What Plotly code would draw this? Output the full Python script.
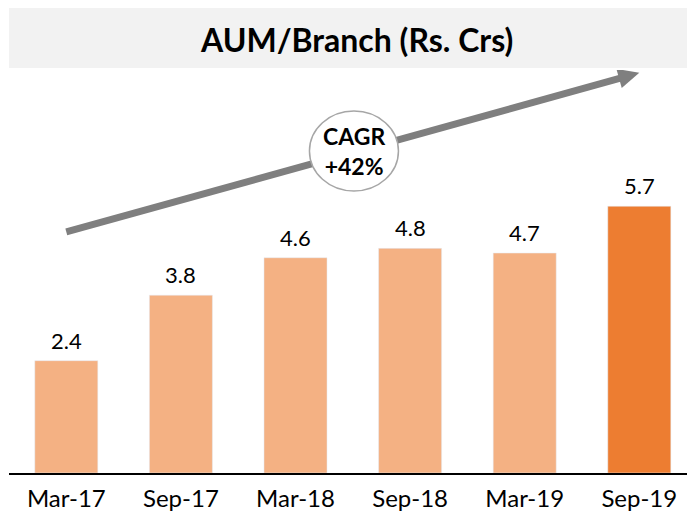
import math
import plotly.graph_objects as go

categories = ["Mar-17", "Sep-17", "Mar-18", "Sep-18", "Mar-19", "Sep-19"]
values = [2.4, 3.8, 4.6, 4.8, 4.7, 5.7]
labels = ["2.4", "3.8", "4.6", "4.8", "4.7", "5.7"]
colors = ["#F4B183", "#F4B183", "#F4B183", "#F4B183", "#F4B183", "#ED7D31"]
title_text = "AUM/Branch (Rs. Crs)"
cagr_text = "CAGR<br>+42%"

W, H = 687, 512
ml, mr, mt, mb = 9, 0, 70, 39
pw = W - ml - mr
ph = H - mt - mb
step = 114.6
ypx = 46.8
x0 = -0.5
x1 = x0 + pw / step
ymax = ph / ypx

font = "Lato, 'Open Sans', sans-serif"

fig = go.Figure()
fig.add_trace(go.Bar(
    x=list(range(len(categories))), y=values, marker_color=colors,
    width=0.55, hoverinfo="skip",
))

def px2paper(px, py):
    return (px - ml) / pw, (H - mb - py) / ph

bx0, by0 = px2paper(9, 8)
bx1, by1 = px2paper(687, 68)

# trend arrow (data coords): tail and tip
tail = (0.0, 5.15)
tip = (5.0, 8.55)
dxp = (tip[0] - tail[0]) * step
dyp = (tip[1] - tail[1]) * ypx
L = math.hypot(dxp, dyp)
ux, uy = dxp / L, dyp / L
head_len, head_half = 21, 10
bxp, byp = -ux * head_len, -uy * head_len
p1 = (tip[0] + (bxp - uy * head_half) / step, tip[1] + (byp + ux * head_half) / ypx)
p2 = (tip[0] + (bxp + uy * head_half) / step, tip[1] + (byp - ux * head_half) / ypx)
shaft_end = (tip[0] + bxp * 0.8 / step, tip[1] + byp * 0.8 / ypx)

shapes = [
    dict(type="rect", xref="paper", yref="paper", x0=bx0, x1=bx1, y0=by1, y1=by0,
         fillcolor="#F2F2F2", line=dict(width=0), layer="below"),
    dict(type="line", xref="x", yref="y", x0=tail[0], y0=tail[1],
         x1=shaft_end[0], y1=shaft_end[1], line=dict(color="#7F7F7F", width=7)),
    dict(type="path", xref="x", yref="y",
         path=f"M {tip[0]} {tip[1]} L {p1[0]} {p1[1]} L {p2[0]} {p2[1]} Z",
         fillcolor="#7F7F7F", line=dict(width=0)),
    dict(type="circle", xref="x", yref="y", xsizemode="pixel", ysizemode="pixel",
         xanchor=2.51, yanchor=6.88, x0=-44.5, x1=44.5, y0=-40, y1=40,
         fillcolor="white", line=dict(color="#A6A6A6", width=1.5)),
]

annotations = [
    dict(xref="paper", yref="paper", x=(356 - ml) / pw, y=px2paper(0, 39)[1],
         text="<b>" + title_text + "</b>", showarrow=False,
         font=dict(size=32, color="black", family=font), xanchor="center", yanchor="middle"),
    dict(xref="x", yref="y", x=2.51, y=6.88, text="<b>" + cagr_text + "</b>",
         showarrow=False, font=dict(size=23, color="black", family=font),
         xanchor="center", yanchor="middle"),
]
for i, (v, lab) in enumerate(zip(values, labels)):
    annotations.append(dict(xref="x", yref="y", x=i, y=v, text=lab, showarrow=False,
                            yanchor="bottom", yshift=5,
                            font=dict(size=22, color="black", family=font)))

fig.update_layout(
    width=W, height=H, margin=dict(l=ml, r=mr, t=mt, b=mb),
    paper_bgcolor="white", plot_bgcolor="white",
    showlegend=False, shapes=shapes, annotations=annotations,
    xaxis=dict(range=[x0, x1], tickvals=list(range(len(categories))), ticktext=categories,
               showline=True, linecolor="black", linewidth=1.5, showgrid=False,
               zeroline=False, ticks="", ticklabelstandoff=3,
               tickfont=dict(size=24, color="black", family=font)),
    yaxis=dict(range=[0, ymax], visible=False, showgrid=False, zeroline=False),
)

fig.write_html("out.html", config={"displayModeBar": False},
               post_script="document.body.style.margin='0';")
